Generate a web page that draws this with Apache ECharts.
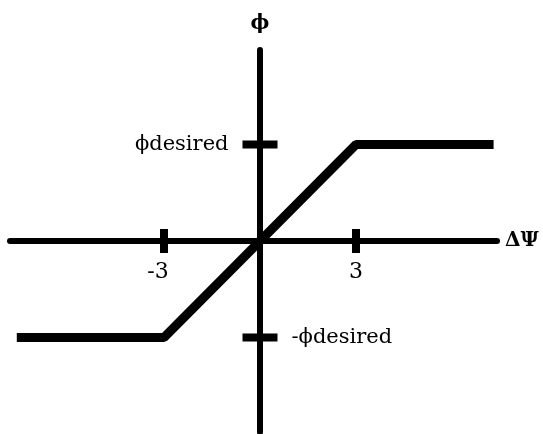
<!DOCTYPE html>
<html>
<head>
<meta charset="UTF-8">
<title>phi vs delta psi</title>
<script type="text/javascript" src="https://cdn.jsdelivr.net/npm/echarts@6/dist/echarts.min.js"></script>
<style type="text/css">
	body{ margin:0; background:#fff; }
	#main{ width:543px; height:434px; }
</style>
</head>
<body>
<div id="main"></div>
<script type="text/javascript">
	// data
	var curveX = [-7.6, -3, 3, 7.3];
	var curveY = [-1, -1, 1, 1];
	var xTicks = [-3, 3];
	var xTickLabels = ['-3', '3'];
	var yTicks = [1, -1];
	var yTickLabels = ['ϕdesired', '-ϕdesired'];

	var font = 'DejaVu Serif';

	var curve = [];
	for(var i = 0;i<curveX.length;i++){
		curve.push([curveX[i], curveY[i]]);
	}
	var xMarks = [];
	for(var i = 0;i<xTicks.length;i++){
		xMarks.push({
			value: [xTicks[i], 0],
			label: {
				show: true,
				formatter: xTickLabels[i],
				position: 'bottom',
				distance: 8,
				offset: [i == 0 ? -6 : 0, 0],
				color: '#000',
				fontFamily: font,
				fontSize: 22
			}
		});
	}
	var yMarks = [];
	for(var i = 0;i<yTicks.length;i++){
		yMarks.push({
			value: [0, yTicks[i]],
			label: {
				show: true,
				formatter: yTickLabels[i],
				position: i == 0 ? 'left' : 'right',
				distance: 14,
				color: '#000',
				fontFamily: font,
				fontSize: 21
			}
		});
	}

	var myChart = echarts.init(document.getElementById('main'));
	var option = {
		animation: false,
		grid: {
			left: 10, right: 46, top: 50, bottom: 2,
			outerBoundsMode: 'none'
		},
		xAxis: {
			type: 'value',
			min: -7.8125,
			max: 7.40625,
			name: 'ΔΨ',
			nameLocation: 'end',
			nameGap: 8,
			nameTextStyle: { color: '#000', fontFamily: font, fontSize: 20, fontWeight: 'bold' },
			axisLine: { onZero: true, lineStyle: { color: '#000', width: 6 } },
			axisTick: { show: false },
			splitLine: { show: false },
			axisLabel: { show: false }
		},
		yAxis: {
			type: 'value',
			min: -1.979,
			max: 1.979,
			name: 'ϕ',
			nameLocation: 'end',
			nameGap: 16,
			nameTextStyle: { color: '#000', fontFamily: font, fontSize: 20, fontWeight: 'bold' },
			axisLine: { onZero: true, lineStyle: { color: '#000', width: 6 } },
			axisTick: { show: false },
			splitLine: { show: false },
			axisLabel: { show: false }
		},
		series: [
			{
				type: 'line',
				data: curve,
				symbol: 'none',
				lineStyle: { color: '#000', width: 9 },
				z: 3
			},
			{
				type: 'scatter',
				data: xMarks,
				symbol: 'rect',
				symbolSize: [8, 24],
				itemStyle: { color: '#000', opacity: 1 },
				emphasis: { disabled: true },
				z: 2
			},
			{
				type: 'scatter',
				data: yMarks,
				symbol: 'rect',
				symbolSize: [35, 8],
				itemStyle: { color: '#000', opacity: 1 },
				emphasis: { disabled: true },
				z: 2
			}
		]
	};
	myChart.setOption(option);
</script>
</body>
</html>
